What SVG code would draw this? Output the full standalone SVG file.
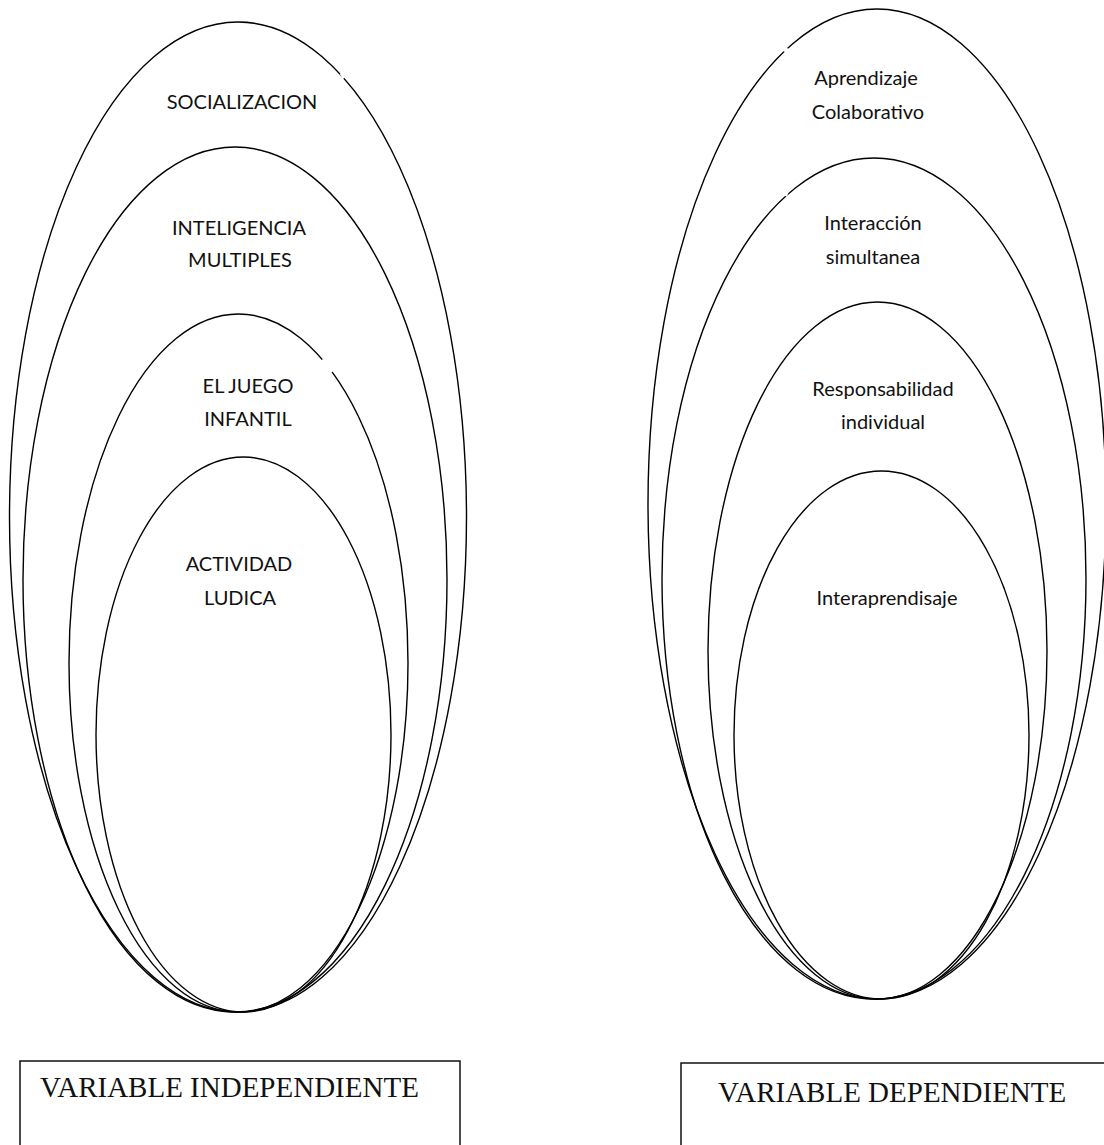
<svg xmlns="http://www.w3.org/2000/svg" width="1104" height="1145" viewBox="0 0 1104 1145">
<style>
.e{fill:none;stroke:#000;stroke-width:1.4}
.t{font-family:Lato,"Liberation Sans",sans-serif;font-size:20px;fill:#111;text-anchor:middle}
.box{fill:#fff;stroke:#111;stroke-width:1.5}
.bt{font-family:"Liberation Serif",serif;font-size:29px;fill:#111}
.gap{stroke:#fff;stroke-width:4;fill:none}
</style>
<rect width="1104" height="1145" fill="#fff"/>
<g id="left">
<g id="socializacion"><ellipse class="e" cx="238" cy="517" rx="228.5" ry="495"/><text class="t" x="242" y="109">SOCIALIZACION</text></g>
<g id="inteligencia"><ellipse class="e" cx="235" cy="579.5" rx="212" ry="432.5"/><text class="t" x="239" y="235">INTELIGENCIA</text><text class="t" x="240" y="267">MULTIPLES</text></g>
<g id="juego"><ellipse class="e" cx="238.5" cy="663" rx="169.5" ry="349"/><text class="t" x="248" y="393">EL JUEGO</text><text class="t" x="248" y="426">INFANTIL</text></g>
<g id="actividad"><ellipse class="e" cx="243.5" cy="734.5" rx="147.5" ry="277.5"/><text class="t" x="239" y="571">ACTIVIDAD</text><text class="t" x="240" y="605">LUDICA</text></g>
</g>
<g id="right">
<g id="aprendizaje"><ellipse class="e" cx="877" cy="504" rx="229" ry="495"/><text class="t" x="866" y="85">Aprendizaje</text><text class="t" x="868" y="119">Colaborativo</text></g>
<g id="interaccion"><ellipse class="e" cx="874" cy="578.5" rx="212" ry="420.5"/><text class="t" x="873" y="230">Interacción</text><text class="t" x="873" y="264">simultanea</text></g>
<g id="responsabilidad"><ellipse class="e" cx="877.5" cy="650.5" rx="169.5" ry="348.5"/><text class="t" x="883" y="396">Responsabilidad</text><text class="t" x="883" y="429">individual</text></g>
<g id="interaprendisaje"><ellipse class="e" cx="881.5" cy="735" rx="147.5" ry="264"/><text class="t" x="887" y="605">Interaprendisaje</text></g>
</g>
<g id="gaps">
<line class="gap" x1="341.5" y1="73" x2="344.5" y2="78"/>
<line class="gap" x1="323" y1="359" x2="332" y2="372"/>
<line class="gap" x1="786.5" y1="48" x2="785.5" y2="52"/>
<line class="gap" x1="787" y1="191" x2="785" y2="196"/>
</g>
<g id="connectors"></g>
<g id="var-independiente"><rect class="box" x="20" y="1061" width="440" height="120"/><text class="bt" x="40" y="1097">VARIABLE INDEPENDIENTE</text></g>
<g id="var-dependiente"><rect class="box" x="681" y="1063" width="440" height="120"/><text class="bt" x="718" y="1102">VARIABLE DEPENDIENTE</text></g>
</svg>
